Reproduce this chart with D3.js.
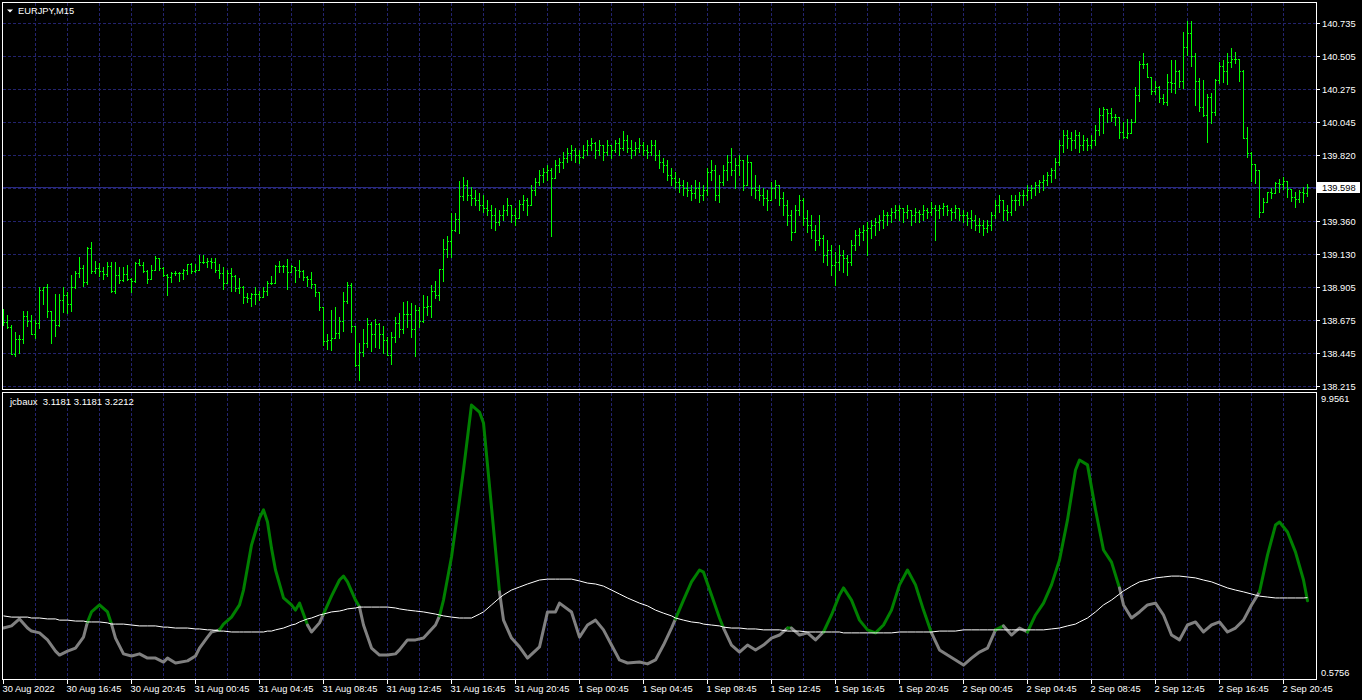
<!DOCTYPE html>
<html><head><meta charset="utf-8">
<script src="https://cdn.jsdelivr.net/npm/d3@7/dist/d3.min.js"></script>
<style>
html,body{margin:0;padding:0;background:#000;overflow:hidden}
svg{display:block}
text{font-family:"Liberation Sans",Arial,sans-serif;font-size:9.3px;fill:#fff}
</style></head><body>
<svg id="c" width="1362" height="700"></svg>
<script>
// ---------------- data ----------------
const symbolTitle = "EURJPY,M15";
const indicatorName = "jcbaux";
const indicatorLegend = ["3.1181", "3.1181", "3.2212"];
const bidPrice = 139.598;
const priceTicks = [140.735, 140.505, 140.275, 140.045, 139.820, 139.590, 139.360, 139.130, 138.905, 138.675, 138.445, 138.215];
const indicatorTicks = [9.9561, 0.5756];
const timeLabels = ["30 Aug 2022", "30 Aug 16:45", "30 Aug 20:45", "31 Aug 00:45", "31 Aug 04:45", "31 Aug 08:45", "31 Aug 12:45",
  "31 Aug 16:45", "31 Aug 20:45", "1 Sep 00:45", "1 Sep 04:45", "1 Sep 08:45", "1 Sep 12:45", "1 Sep 16:45", "1 Sep 20:45",
  "2 Sep 00:45", "2 Sep 04:45", "2 Sep 08:45", "2 Sep 12:45", "2 Sep 16:45", "2 Sep 20:45"];
const timeLabelBars = [0, 16, 32, 48, 64, 80, 96, 112, 128, 144, 160, 176, 192, 208, 224, 240, 256, 272, 288, 304, 320];

const openP = [
138.687,138.659,138.625,138.437,138.541,138.541,138.701,138.666,138.576,138.652,
138.882,138.902,138.736,138.673,138.639,138.812,138.847,138.784,138.902,138.999,
139.034,138.937,139.173,139.013,139.034,139.013,138.992,139.048,138.875,138.986,
138.951,138.992,138.958,138.944,139.069,139.055,139.013,138.958,139.020,139.103,
139.034,138.986,138.972,138.999,138.999,138.999,139.020,139.062,139.013,139.020,
139.076,139.076,139.083,139.076,139.020,138.999,138.930,138.999,138.979,138.895,
138.902,138.833,138.826,138.854,138.854,138.833,138.875,138.930,138.930,139.048,
139.048,139.048,139.006,139.041,139.020,139.013,138.972,138.958,138.923,138.868,
138.763,138.528,138.535,138.548,138.583,138.666,138.805,138.916,138.632,138.361,
138.451,138.514,138.645,138.576,138.645,138.576,138.535,138.430,138.555,138.652,
138.611,138.715,138.715,138.611,138.743,138.666,138.763,138.770,138.875,138.847,
139.027,139.166,139.222,139.298,139.374,139.534,139.610,139.541,139.520,139.506,
139.472,139.451,139.437,139.402,139.353,139.402,139.437,139.472,139.402,139.381,
139.479,139.506,139.472,139.576,139.631,139.680,139.701,139.715,139.659,139.749,
139.770,139.798,139.833,139.853,139.819,139.805,139.853,139.888,139.902,139.853,
139.888,139.840,139.888,139.853,139.902,139.867,139.923,139.867,139.853,139.867,
139.888,139.853,139.840,139.888,139.819,139.770,139.749,139.680,139.659,139.631,
139.610,139.590,139.576,139.555,139.590,139.541,139.576,139.701,139.715,139.541,
139.631,139.715,139.770,139.715,139.749,139.784,139.610,139.770,139.590,139.576,
139.541,139.520,139.506,139.590,139.610,139.520,139.472,139.402,139.284,139.437,
139.506,139.381,139.333,139.298,139.229,139.243,139.124,139.159,139.055,139.076,
139.124,139.103,139.076,139.194,139.263,139.284,139.298,139.312,139.333,139.353,
139.367,139.402,139.402,139.423,139.437,139.451,139.423,139.437,139.402,139.423,
139.409,139.437,139.423,139.451,139.437,139.451,139.465,139.437,139.423,139.451,
139.402,139.402,139.381,139.367,139.333,139.333,139.312,139.333,139.402,139.472,
139.506,139.437,139.423,139.506,139.506,139.541,139.541,139.576,139.590,139.610,
139.631,139.645,139.680,139.715,139.770,139.888,139.957,139.937,139.923,139.957,
139.888,139.923,139.888,139.923,139.992,140.096,140.138,140.110,140.083,140.083,
139.978,139.944,139.971,140.048,140.235,140.450,140.450,140.360,140.263,140.291,
140.214,140.187,140.325,140.318,140.402,140.332,140.568,140.666,140.506,140.332,
140.152,140.096,140.221,140.117,140.339,140.436,140.402,140.464,140.485,140.485,
140.402,139.937,139.833,139.756,139.715,139.423,139.492,139.562,139.555,139.624,
139.617,139.638,139.583,139.527,139.513,139.562,139.555];

const highP = [
138.749,138.708,138.639,138.590,138.569,138.736,138.736,138.708,138.673,138.902,
138.902,138.923,138.736,138.854,138.854,138.902,138.868,138.986,139.013,139.110,
139.055,139.180,139.215,139.083,139.069,139.041,139.076,139.076,139.076,139.041,
139.041,139.055,138.965,139.076,139.096,139.076,139.020,139.055,139.117,139.103,
139.041,138.992,139.006,139.013,139.006,139.027,139.062,139.069,139.062,139.124,
139.124,139.103,139.103,139.103,139.062,139.041,139.020,139.034,138.986,138.965,
138.909,138.861,138.861,138.902,138.875,138.902,138.944,138.979,139.055,139.083,
139.055,139.096,139.055,139.041,139.090,139.020,138.979,139.006,138.923,138.868,
138.763,138.576,138.743,138.763,138.694,138.868,138.937,138.930,138.632,138.514,
138.611,138.687,138.659,138.680,138.652,138.632,138.555,138.590,138.694,138.722,
138.798,138.805,138.791,138.777,138.763,138.847,138.840,138.916,138.944,139.027,
139.236,139.256,139.416,139.416,139.638,139.666,139.645,139.597,139.576,139.555,
139.541,139.506,139.472,139.451,139.437,139.472,139.520,139.472,139.451,139.506,
139.541,139.520,139.610,139.659,139.715,139.729,139.749,139.729,139.784,139.798,
139.840,139.867,139.888,139.867,139.853,139.888,139.923,139.937,139.909,139.923,
139.888,139.923,139.888,139.923,139.937,139.985,139.957,139.923,139.909,139.937,
139.909,139.888,139.923,139.923,139.853,139.798,139.784,139.729,139.701,139.659,
139.645,139.631,139.610,139.645,139.631,139.610,139.729,139.784,139.749,139.680,
139.749,139.819,139.867,139.798,139.819,139.784,139.819,139.770,139.680,139.610,
139.590,139.576,139.631,139.645,139.610,139.562,139.506,139.437,139.472,139.541,
139.520,139.437,139.402,139.333,139.402,139.263,139.229,139.194,139.145,139.194,
139.159,139.124,139.229,139.298,139.312,139.333,139.353,139.367,139.381,139.402,
139.437,139.423,139.451,139.472,139.472,139.451,139.472,139.437,139.451,139.437,
139.472,139.451,139.492,139.472,139.472,139.485,139.472,139.451,139.472,139.451,
139.437,139.423,139.437,139.402,139.381,139.367,139.367,139.423,139.506,139.541,
139.506,139.472,139.541,139.541,139.562,139.576,139.610,139.610,139.631,139.645,
139.680,139.701,139.729,139.798,139.923,139.992,139.992,139.978,139.992,139.978,
139.957,139.937,139.957,140.027,140.145,140.152,140.138,140.145,140.103,140.083,
140.048,140.069,140.069,140.291,140.471,140.527,140.457,140.360,140.332,140.298,
140.242,140.381,140.478,140.478,140.409,140.673,140.749,140.749,140.527,140.353,
140.339,140.242,140.249,140.346,140.464,140.478,140.527,140.561,140.534,140.485,
140.409,140.013,139.840,139.756,139.715,139.520,139.562,139.590,139.631,139.652,
139.666,139.638,139.583,139.562,139.576,139.597,139.617];

const lowP = [
138.639,138.618,138.437,138.423,138.444,138.514,138.632,138.576,138.548,138.618,
138.784,138.694,138.514,138.562,138.632,138.729,138.722,138.736,138.895,138.972,
138.909,138.923,138.999,138.999,138.979,138.958,138.979,138.868,138.861,138.930,
138.944,138.951,138.868,138.937,139.055,139.006,138.930,138.958,139.020,139.020,
138.979,138.847,138.937,138.986,138.944,138.958,138.992,138.999,139.006,139.020,
139.069,139.041,139.034,139.006,138.965,138.888,138.930,138.875,138.875,138.861,
138.791,138.798,138.770,138.784,138.812,138.833,138.847,138.923,138.930,139.006,
139.006,138.888,139.006,138.937,138.972,138.951,138.909,138.895,138.840,138.743,
138.500,138.472,138.465,138.548,138.548,138.597,138.791,138.590,138.354,138.257,
138.423,138.486,138.458,138.486,138.479,138.444,138.430,138.368,138.521,138.555,
138.583,138.625,138.555,138.423,138.625,138.659,138.708,138.694,138.826,138.812,
138.944,139.110,139.110,139.291,139.277,139.506,139.506,139.472,139.472,139.437,
139.423,139.402,139.312,139.298,139.333,139.367,139.402,139.353,139.333,139.381,
139.437,139.402,139.472,139.541,139.610,139.631,139.645,139.256,139.659,139.701,
139.729,139.770,139.784,139.770,139.763,139.798,139.819,139.853,139.798,139.819,
139.784,139.819,139.798,139.840,139.819,139.853,139.840,139.798,139.819,139.840,
139.819,139.798,139.819,139.784,139.729,139.701,139.645,139.610,139.590,139.562,
139.541,139.534,139.506,139.520,139.492,139.506,139.541,139.645,139.506,139.492,
139.610,139.645,139.680,139.590,139.680,139.576,139.610,139.541,139.520,139.506,
139.472,139.437,139.506,139.520,139.472,139.402,139.333,139.229,139.284,139.402,
139.333,139.284,139.243,139.159,139.194,139.076,139.055,138.986,138.916,139.020,
139.006,138.986,139.055,139.159,139.194,139.229,139.124,139.243,139.263,139.298,
139.312,139.333,139.353,139.381,139.367,139.353,139.381,139.333,139.353,139.353,
139.367,139.381,139.402,139.229,139.381,139.402,139.402,139.367,139.381,139.367,
139.353,139.333,139.312,139.298,139.284,139.263,139.284,139.298,139.381,139.423,
139.367,139.367,139.402,139.437,139.472,139.472,139.506,139.520,139.541,139.562,
139.576,139.610,139.631,139.659,139.749,139.840,139.867,139.853,139.867,139.840,
139.853,139.853,139.867,139.888,139.957,139.971,140.048,140.055,140.027,139.937,
139.937,139.937,139.971,140.048,140.194,140.423,140.360,140.242,140.242,140.187,
140.173,140.166,140.256,140.249,140.291,140.284,140.513,140.437,140.166,140.124,
140.089,139.909,140.041,140.096,140.318,140.325,140.311,140.430,140.457,140.332,
139.937,139.805,139.638,139.624,139.388,139.423,139.492,139.520,139.555,139.562,
139.583,139.527,139.499,139.458,139.492,139.492,139.534];

const closeP = [
138.659,138.625,138.437,138.541,138.541,138.701,138.666,138.576,138.652,138.882,
138.902,138.736,138.673,138.639,138.812,138.847,138.784,138.902,138.999,139.034,
138.937,139.173,139.013,139.034,139.013,138.992,139.048,138.875,138.986,138.951,
138.992,138.958,138.944,139.069,139.055,139.013,138.958,139.020,139.103,139.034,
138.986,138.972,138.999,138.999,138.999,139.020,139.062,139.013,139.020,139.076,
139.076,139.083,139.076,139.020,138.999,138.930,138.999,138.979,138.895,138.902,
138.833,138.826,138.854,138.854,138.833,138.875,138.930,138.930,139.048,139.048,
139.048,139.006,139.048,139.020,139.013,138.972,138.958,138.923,138.868,138.763,
138.528,138.535,138.548,138.583,138.666,138.805,138.916,138.632,138.361,138.451,
138.514,138.645,138.576,138.645,138.576,138.535,138.430,138.555,138.652,138.611,
138.715,138.715,138.611,138.743,138.666,138.763,138.770,138.875,138.847,139.027,
139.166,139.222,139.298,139.374,139.534,139.610,139.541,139.520,139.506,139.472,
139.451,139.437,139.402,139.353,139.402,139.437,139.472,139.402,139.381,139.479,
139.506,139.472,139.576,139.631,139.680,139.701,139.715,139.659,139.749,139.770,
139.798,139.833,139.853,139.819,139.805,139.853,139.888,139.902,139.853,139.888,
139.840,139.888,139.853,139.902,139.867,139.923,139.867,139.853,139.867,139.888,
139.853,139.840,139.888,139.819,139.770,139.749,139.680,139.659,139.631,139.610,
139.590,139.576,139.555,139.590,139.541,139.576,139.701,139.715,139.541,139.631,
139.715,139.770,139.715,139.749,139.784,139.610,139.770,139.590,139.576,139.541,
139.520,139.506,139.590,139.610,139.520,139.472,139.402,139.284,139.437,139.506,
139.381,139.333,139.298,139.229,139.243,139.124,139.159,139.055,139.076,139.124,
139.103,139.076,139.194,139.263,139.284,139.298,139.312,139.333,139.353,139.367,
139.402,139.402,139.423,139.437,139.451,139.423,139.437,139.402,139.423,139.409,
139.437,139.423,139.451,139.437,139.451,139.465,139.437,139.423,139.451,139.402,
139.402,139.381,139.367,139.333,139.333,139.312,139.333,139.402,139.472,139.506,
139.437,139.423,139.506,139.506,139.541,139.541,139.576,139.590,139.610,139.631,
139.645,139.680,139.715,139.770,139.888,139.957,139.937,139.923,139.957,139.888,
139.923,139.888,139.923,139.992,140.096,140.138,140.110,140.083,140.083,139.978,
139.944,139.971,140.048,140.235,140.450,140.450,140.360,140.263,140.291,140.214,
140.187,140.325,140.318,140.402,140.332,140.568,140.666,140.506,140.332,140.152,
140.096,140.221,140.117,140.339,140.436,140.402,140.464,140.485,140.485,140.402,
139.937,139.833,139.756,139.715,139.423,139.492,139.562,139.555,139.624,139.617,
139.638,139.583,139.527,139.513,139.562,139.555,139.598];

// indicator: bar index of each reading, main (thick) and signal (thin white) values
const jcBar = [
0,2,4,6,7,9,11,13,14,16,
18,20,21,22,24,26,27,28,30,32,
34,36,38,40,41,43,46,48,49,51,
52,54,55,57,59,60,62,64,65,66,
67,68,70,72,73,74,76,77,79,80,
82,84,85,86,88,89,90,92,94,96,
98,99,101,103,105,108,109,110,112,114,
115,117,119,120,122,124,125,127,129,131,
134,136,138,139,142,144,146,148,150,152,
154,156,159,161,163,165,167,168,170,172,
174,175,177,179,180,182,184,186,188,190,
192,194,196,197,199,201,203,205,207,209,
210,212,214,216,218,220,222,224,226,228,
230,232,234,236,238,240,242,244,246,248,
250,252,254,256,258,260,262,264,266,268,
269,271,273,275,277,279,280,282,284,286,
288,290,292,294,296,298,300,302,304,306,
308,310,312,314,316,318,319,321,323,325,
326];
const jcMain = [
2.22,2.29,2.52,2.22,2.12,2.06,1.83,1.46,1.33,1.46,
1.56,1.92,2.42,2.75,2.98,2.75,2.35,1.89,1.37,1.30,
1.37,1.23,1.23,1.10,1.23,1.07,1.14,1.30,1.56,1.92,
2.09,2.16,2.35,2.58,2.98,3.47,4.95,5.84,6.11,5.71,
4.85,4.13,3.21,2.98,2.81,3.04,2.32,2.09,2.39,2.68,
3.27,3.80,3.93,3.74,3.14,2.91,2.32,1.56,1.33,1.33,
1.37,1.50,1.83,1.83,1.89,2.32,2.62,3.14,4.56,6.43,
7.42,9.56,9.33,8.97,6.20,3.41,2.48,1.89,1.60,1.23,
1.60,2.75,2.75,3.04,2.75,1.92,2.32,2.48,2.16,1.66,
1.17,1.07,1.10,1.04,1.17,1.66,2.22,2.52,3.14,3.74,
4.13,4.06,3.31,2.55,2.22,1.66,1.43,1.66,1.50,1.66,
1.89,1.99,2.22,2.22,1.99,2.06,1.83,2.09,2.65,3.31,
3.54,3.14,2.48,2.16,2.06,2.32,2.81,3.64,4.13,3.64,
2.81,2.06,1.50,1.33,1.17,1.00,1.23,1.43,1.56,2.16,
2.29,1.99,2.22,2.09,2.65,3.04,3.64,4.46,5.78,7.42,
7.75,7.59,6.11,4.79,4.39,3.54,2.98,2.55,2.75,2.98,
3.04,2.65,1.99,1.83,2.32,2.42,2.09,2.32,2.42,2.09,
2.22,2.48,2.98,3.41,4.62,5.61,5.71,5.38,4.72,3.80,
3.1181];
const jcSignal = [
2.62,2.58,2.58,2.58,2.55,2.55,2.52,2.52,2.48,2.48,
2.45,2.45,2.42,2.42,2.42,2.39,2.35,2.35,2.35,2.32,
2.29,2.29,2.29,2.25,2.25,2.22,2.22,2.19,2.19,2.16,
2.16,2.12,2.12,2.09,2.09,2.09,2.09,2.09,2.09,2.12,
2.12,2.16,2.22,2.32,2.35,2.42,2.52,2.55,2.65,2.68,
2.75,2.78,2.81,2.85,2.88,2.91,2.91,2.91,2.91,2.91,
2.88,2.85,2.81,2.78,2.75,2.68,2.65,2.62,2.58,2.55,
2.55,2.55,2.68,2.75,2.98,3.21,3.31,3.47,3.57,3.67,
3.80,3.83,3.83,3.83,3.83,3.77,3.70,3.67,3.60,3.47,
3.34,3.21,3.04,2.95,2.81,2.71,2.62,2.55,2.48,2.42,
2.39,2.35,2.32,2.29,2.25,2.22,2.22,2.19,2.19,2.16,
2.16,2.16,2.12,2.12,2.12,2.09,2.09,2.09,2.09,2.09,
2.06,2.06,2.06,2.06,2.06,2.06,2.06,2.09,2.09,2.09,
2.09,2.09,2.12,2.12,2.12,2.16,2.16,2.16,2.16,2.16,
2.16,2.16,2.16,2.16,2.16,2.16,2.19,2.22,2.29,2.35,
2.42,2.55,2.75,2.98,3.14,3.34,3.44,3.60,3.74,3.80,
3.87,3.90,3.93,3.93,3.90,3.87,3.80,3.74,3.64,3.54,
3.47,3.41,3.34,3.27,3.24,3.21,3.21,3.21,3.21,3.21,
3.2212];

// ---------------- drawing ----------------
const C = {bg:"#000000", grid:"#23236e", bid:"#2a2a80", frame:"#ffffff", bar:"#00ff00", up:"#008000", dn:"#808080", sig:"#ffffff"};
const svg = d3.select("#c");
svg.append("rect").attr("width",1362).attr("height",700).attr("fill",C.bg);

const nBars = closeP.length;
const xCol = d3.scaleLinear().domain([0, nBars - 1]).range([3, 3 + 4 * (nBars - 1)]);
const yP = d3.scaleLinear().domain([138.215, 140.735]).range([386, 23]);
const yI = d3.scaleLinear().domain([indicatorTicks[1], indicatorTicks[0]]).range([678, 393]);

const paneL = 2, paneR = 1316, mainT = 2, mainB = 389, indT = 392, indB = 679;

// grid
const grid = svg.append("g").attr("stroke", C.grid).attr("stroke-width", 1)
  .attr("stroke-dasharray", "3,2").attr("shape-rendering", "crispEdges");
grid.selectAll("line.h").data(priceTicks).enter().append("line")
  .attr("x1", paneL + 1).attr("x2", paneR)
  .attr("y1", d => Math.round(yP(d)) + 0.5).attr("y2", d => Math.round(yP(d)) + 0.5);
const vBars = d3.range(8, nBars, 8);
[[mainT + 1, mainB], [indT + 1, indB]].forEach(([a, b]) => {
  grid.selectAll(null).data(vBars).enter().append("line")
    .attr("x1", d => xCol(d) + 0.5).attr("x2", d => xCol(d) + 0.5)
    .attr("y1", a).attr("y2", b);
});
// bid line
svg.append("line").attr("x1", paneL + 1).attr("x2", paneR)
  .attr("y1", Math.round(yP(bidPrice)) + 0.5).attr("y2", Math.round(yP(bidPrice)) + 0.5)
  .attr("stroke", C.bid).attr("shape-rendering", "crispEdges");

// OHLC bars
const bars = svg.append("g").attr("fill", C.bar).attr("shape-rendering", "crispEdges");
closeP.forEach((c, i) => {
  const xc = xCol(i);
  const yh = Math.round(yP(highP[i])), yl = Math.round(yP(lowP[i]));
  bars.append("rect").attr("x", xc).attr("y", yh).attr("width", 1).attr("height", yl - yh + 1);
  bars.append("rect").attr("x", xc - 1).attr("y", Math.round(yP(openP[i]))).attr("width", 1).attr("height", 1);
  bars.append("rect").attr("x", xc + 1).attr("y", Math.round(yP(c))).attr("width", 1).attr("height", 1);
});

// indicator thick line, coloured by position against signal
const pts = jcBar.map((b, k) => ({x: xCol(b) + 0.5, m: jcMain[k], s: jcSignal[k]}));
const runs = [];
for (let k = 0; k < pts.length - 1; k++) {
  const up = (pts[k].m + pts[k + 1].m) >= (pts[k].s + pts[k + 1].s);
  const last = runs[runs.length - 1];
  if (last && last.up === up) last.p.push(pts[k + 1]);
  else runs.push({up, p: [pts[k], pts[k + 1]]});
}
const lineM = d3.line().x(d => d.x).y(d => yI(d.m));
svg.append("g").selectAll("path").data(runs).enter().append("path")
  .attr("d", r => lineM(r.p)).attr("fill", "none")
  .attr("stroke", r => r.up ? C.up : C.dn).attr("stroke-width", 3)
  .attr("stroke-linejoin", "round").attr("stroke-linecap", "round");
const lineS = d3.line().x(d => d.x).y(d => yI(d.s));
svg.append("path").attr("d", lineS(pts)).attr("fill", "none").attr("stroke", C.sig).attr("stroke-width", 1);

// frames
const fr = svg.append("g").attr("fill", "none").attr("stroke", C.frame).attr("shape-rendering", "crispEdges");
fr.append("rect").attr("x", paneL + 0.5).attr("y", mainT + 0.5).attr("width", paneR - paneL).attr("height", mainB - mainT);
fr.append("rect").attr("x", paneL + 0.5).attr("y", indT + 0.5).attr("width", paneR - paneL).attr("height", indB - indT);

// price axis
const pa = svg.append("g");
priceTicks.forEach(p => {
  const yy = Math.round(yP(p)) + 0.5;
  pa.append("line").attr("x1", paneR + 1).attr("x2", paneR + 4).attr("y1", yy).attr("y2", yy)
    .attr("stroke", "#fff").attr("shape-rendering", "crispEdges");
  pa.append("text").attr("x", 1322).attr("y", yy).attr("dominant-baseline", "central").text(p.toFixed(3));
});
const by = Math.round(yP(bidPrice)) + 0.5;
pa.append("rect").attr("x", 1317).attr("y", by - 5.5).attr("width", 43).attr("height", 11).attr("fill", "#fff");
pa.append("text").attr("x", 1322).attr("y", by).attr("dominant-baseline", "central").style("fill", "#000").text(bidPrice.toFixed(3));

// indicator axis
svg.append("text").attr("x", 1321).attr("y", 398.5).attr("dominant-baseline", "central").text(indicatorTicks[0].toFixed(4));
svg.append("text").attr("x", 1321).attr("y", 672.5).attr("dominant-baseline", "central").text(indicatorTicks[1].toFixed(4));

// time axis
const ta = svg.append("g");
timeLabelBars.forEach((b, k) => {
  const xx = xCol(b) + 0.5;
  ta.append("line").attr("x1", xx).attr("x2", xx).attr("y1", indB + 1).attr("y2", indB + 5)
    .attr("stroke", "#fff").attr("shape-rendering", "crispEdges");
  ta.append("text").attr("x", xx - 1).attr("y", 689).attr("dominant-baseline", "central").text(timeLabels[k]);
});

// titles
svg.append("path").attr("d", "M7,9.5 L13,9.5 L10,12.5 Z").attr("fill", "#fff");
svg.append("text").attr("x", 18).attr("y", 10.5).attr("dominant-baseline", "central").text(symbolTitle);
svg.append("text").attr("x", 10).attr("y", 401).attr("dominant-baseline", "central")
  .attr("xml:space", "preserve").style("white-space", "pre").style("font-size", "9.5px")
  .text(indicatorName + "  " + indicatorLegend.join(" "));
</script>
</body></html>
